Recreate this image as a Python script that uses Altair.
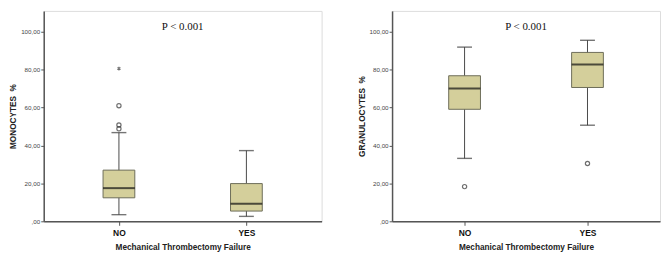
import altair as alt
import pandas as pd

groups = ["NO", "YES"]

# MONOCYTES % (left panel)
mono_lower = [3.5, 2.6]
mono_q1 = [12.4, 5.4]
mono_median = [17.5, 9.3]
mono_q3 = [27.0, 19.9]
mono_upper = [46.8, 37.3]
mono_out_group = ["NO", "NO", "NO"]
mono_out_value = [48.8, 50.8, 61.0]
mono_ext_group = ["NO"]
mono_ext_value = [80.6]

# GRANULOCYTES % (right panel)
gran_lower = [33.2, 50.7]
gran_q1 = [59.1, 70.6]
gran_median = [70.1, 82.7]
gran_q3 = [76.8, 89.1]
gran_upper = [91.9, 95.5]
gran_out_group = ["NO", "YES"]
gran_out_value = [18.3, 30.5]
gran_ext_group = []
gran_ext_value = []

y_ticks = [0, 20, 40, 60, 80, 100]
p_label = "P < 0.001"
x_title = "Mechanical Thrombectomy Failure"
titles = ["MONOCYTES\u00a0\u00a0%", "GRANULOCYTES\u00a0\u00a0%"]

H = 212
STAR = "M0,-1L0,1M-0.87,-0.5L0.87,0.5M-0.87,0.5L0.87,-0.5"


def panel(lower, q1, med, q3, upper, og, ov, eg, ev, ytitle, w):
    box = pd.DataFrame({"g": groups, "lower": lower, "q1": q1, "median": med,
                        "q3": q3, "upper": upper})
    out = pd.DataFrame({"g": og, "v": ov})
    ext = pd.DataFrame({"g": eg, "v": ev})

    x = alt.X("g:N", title=x_title,
              scale=alt.Scale(type="point", domain=groups, padding=0.59),
              axis=alt.Axis(labelAngle=0, labelFont="Liberation Sans", labelFontSize=8.5,
                            labelFontWeight="bold", labelColor="#111", labelPadding=3,
                            tickSize=4, tickColor="#555", domainColor="#555", domainWidth=1.5,
                            titleFont="Liberation Sans", titleFontSize=8.3, titleFontWeight="bold",
                            titleColor="#222", titlePadding=6, grid=False))
    yscale = alt.Scale(domain=[0, 111], nice=False, zero=True)
    yaxis = alt.Axis(values=y_ticks, grid=False,
                     labelExpr="datum.value == 0 ? ',00' : replace(format(datum.value, '.2f'), '.', ',')",
                     labelFont="Liberation Sans", labelFontSize=6.3, labelColor="#444",
                     labelPadding=1, tickSize=3, tickColor="#555", domainColor="#555",
                     domainWidth=1.5, titleFont="Liberation Sans", titleFontSize=8.3,
                     titleFontWeight="bold", titleColor="#222", titlePadding=3)

    base = alt.Chart(box)
    whisker = base.mark_rule(color="#4a4a4a", strokeWidth=1).encode(
        x=x, y=alt.Y("lower:Q", scale=yscale, axis=yaxis, title=ytitle), y2="upper:Q")
    caps_lo = base.mark_tick(color="#3a3a3a", size=15, thickness=1.4).encode(
        x=x, y=alt.Y("lower:Q", scale=yscale))
    caps_hi = base.mark_tick(color="#3a3a3a", size=15, thickness=1.4).encode(
        x=x, y=alt.Y("upper:Q", scale=yscale))
    boxes = base.mark_bar(size=32, fill="#d4cf9b", stroke="#6e6e5a", strokeWidth=1).encode(
        x=x, y=alt.Y("q1:Q", scale=yscale), y2="q3:Q")
    medians = base.mark_tick(color="#111", size=32, thickness=2).encode(
        x=x, y=alt.Y("median:Q", scale=yscale))
    layers = [whisker, caps_lo, caps_hi, boxes, medians]
    if len(out):
        layers.append(alt.Chart(out).mark_point(shape="circle", filled=False, size=18,
                                                stroke="#333", strokeWidth=1.2).encode(
            x=x, y=alt.Y("v:Q", scale=yscale)))
    if len(ext):
        layers.append(alt.Chart(ext).mark_point(shape=STAR, filled=False, size=14,
                                                stroke="#333", strokeWidth=1.1).encode(
            x=x, y=alt.Y("v:Q", scale=yscale)))
    ptext = alt.Chart(pd.DataFrame({"t": [p_label]})).mark_text(
        font="Liberation Serif", fontSize=11, color="#111", baseline="middle", align="center"
    ).encode(text="t:N", x=alt.value(w / 2), y=alt.value(16))
    layers.append(ptext)
    return alt.layer(*layers).properties(width=w, height=H)


left = panel(mono_lower, mono_q1, mono_median, mono_q3, mono_upper,
             mono_out_group, mono_out_value, mono_ext_group, mono_ext_value, titles[0], 280)
right = panel(gran_lower, gran_q1, gran_median, gran_q3, gran_upper,
              gran_out_group, gran_out_value, gran_ext_group, gran_ext_value, titles[1], 270)

chart = alt.hconcat(left, right, spacing=34).properties(
    padding={"left": 0, "top": 1, "right": 0, "bottom": 0}
).configure_view(fill="#f0f0f0", stroke="#999999", strokeWidth=1.2).configure(background="white")

chart.save("out.html", embed_options={"renderer": "svg", "actions": False})
